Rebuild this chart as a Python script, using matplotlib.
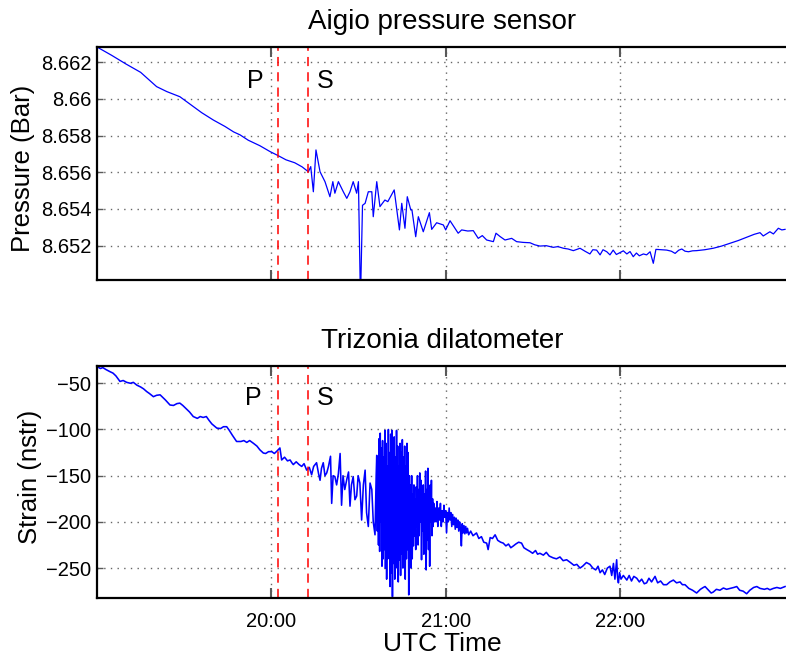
import numpy as np
import matplotlib
matplotlib.use('Agg')
import matplotlib.pyplot as plt

plt.rcParams['font.family'] = ['Liberation Sans', 'DejaVu Sans']

# tempo em minutos depois das 19:00 UTC
t_pressao = [0, 5, 10, 15, 20.5, 24, 28.5, 33, 36, 40, 44, 47, 49.2, 52, 56, 59.5, 62.4, 65, 68, 70.5,
             72.7, 73.5, 74.4, 75.3, 76.7, 78.4, 80.1, 81.1, 81.8, 83.0, 84.7, 85.9, 87.0, 88.1,
             89.3, 89.9, 90.6, 91.3, 92.2, 93.3, 94.5, 95.0, 96.2, 97.3, 99.0, 100.0, 102.2,
             104.0, 104.8, 105.9, 106.7, 107.9, 108.3, 109.6, 110.5, 112.2, 114.3, 115.1, 116.8,
             119.1, 119.9, 121.4, 124.2, 125.4, 127.5, 129.4, 131.1, 132.5, 134.0, 136.3, 137.2,
             138.6, 140.3, 142.6, 144.3, 146.5, 148.9, 150.5, 152.3, 154.5, 156.9, 158.5, 160.4,
             162.0, 163.8, 166.1, 167.8, 169.5, 170.5, 171.8, 173.0, 174.0, 175.3, 176.4, 177.5,
             178.6, 179.8, 181.0, 182.2, 183.3, 184.4, 185.5, 186.5, 187.9, 189.0, 190.2, 191.3,
             192.2, 194.0, 195.9, 197.5, 198.8, 200.0, 201.1, 202.2, 203.4, 204.8, 206.2, 209.0,
             211.9, 214.8, 217.7, 220.5, 223.4, 226.0, 228.0, 229.1, 231.4, 232.6, 234.3, 235.5,
             236.6]
pressao = [8.66283, 8.66238, 8.66190, 8.66145, 8.66067, 8.66040, 8.66012, 8.65960, 8.65925,
           8.65885, 8.65850, 8.65820, 8.65804, 8.65775, 8.65745, 8.65713, 8.65690, 8.65668,
           8.65652, 8.65630, 8.65603, 8.65631, 8.65494, 8.65722, 8.65603, 8.65549, 8.65467,
           8.65549, 8.65486, 8.65549, 8.65494, 8.65458, 8.65494, 8.65549, 8.65486, 8.65549,
           8.64900, 8.65420, 8.65431, 8.65494, 8.65494, 8.65358, 8.65549, 8.65413, 8.65449,
           8.65440, 8.65504, 8.65286, 8.65431, 8.65295, 8.65467, 8.65395, 8.65395, 8.65249,
           8.65358, 8.65276, 8.65380, 8.65289, 8.65325, 8.65313, 8.65286, 8.65336, 8.65268,
           8.65286, 8.65280, 8.65282, 8.65240, 8.65255, 8.65231, 8.65222, 8.65268, 8.65250,
           8.65231, 8.65240, 8.65222, 8.65218, 8.65216, 8.65205, 8.65198, 8.65200, 8.65191,
           8.65195, 8.65186, 8.65182, 8.65173, 8.65186, 8.65170, 8.65155, 8.65178, 8.65176,
           8.65150, 8.65178, 8.65167, 8.65150, 8.65176, 8.65152, 8.65162, 8.65172, 8.65155,
           8.65168, 8.65140, 8.65160, 8.65145, 8.65155, 8.65150, 8.65167, 8.65104, 8.65180,
           8.65178, 8.65176, 8.65170, 8.65158, 8.65175, 8.65182, 8.65170, 8.65167, 8.65172,
           8.65173, 8.65178, 8.65186, 8.65198, 8.65213, 8.65228, 8.65246, 8.65262, 8.65271,
           8.65253, 8.65276, 8.65264, 8.65295, 8.65286, 8.65289]

# dilatômetro: antes da chegada das ondas e início do tremor
t_strain_a = [0, 1.2, 2.0, 3.0, 4.5, 5.5, 6.5, 7.9, 9.0, 10.2, 11.5, 12.5, 13.7, 15.0, 16.0, 17.1,
              18.0, 19.4, 20.5, 21.7, 22.5, 23.5, 25.1, 26.3, 27.5, 28.5, 29.5, 30.5, 31.8, 33.1,
              34.5, 35.5, 36.5, 37.6, 38.5, 39.5, 41.2, 42.5, 43.5, 44.6, 45.5, 46.5, 48.0, 49.5,
              50.5, 51.5, 52.5, 53.8, 55.0, 56.0, 57.2, 58.0, 59.0, 60.1, 61.0, 62.0, 62.9, 63.5,
              64.5, 65.5, 66.4, 67.0, 67.5, 68.5, 69.5, 70.4, 71.2, 72.1, 73.0, 73.8, 74.5, 75.5,
              76.2, 76.7, 77.2, 77.8, 78.4, 79.0, 79.6, 80.3, 80.7, 81.2, 81.8, 82.4, 83.0, 83.6,
              84.1, 84.6, 85.2, 85.9, 86.5, 87.0, 87.5, 88.1, 88.7, 89.3, 89.8, 90.4, 91.0, 91.6,
              92.2, 92.7, 93.3, 93.9, 94.5, 95.0, 95.6]
strain_a = [-32, -34, -33, -35, -37.5, -39, -42, -48, -47, -49, -50, -49, -52, -54, -56, -59,
            -61, -64.5, -63, -62.5, -65, -68, -73.5, -74, -72, -71.5, -74, -77, -81, -86,
            -88, -86, -87, -86, -90, -94, -98.5, -99, -97, -97, -101, -106, -113, -113,
            -112, -114, -112, -115, -118, -122, -125.5, -126, -124, -124, -126, -123, -120, -133,
            -130, -134, -133, -136, -138, -135, -138, -140, -137, -144, -141, -149, -140, -136,
            -148, -155, -142, -136, -150, -147, -140, -129, -180, -150, -151, -160, -148, -126,
            -182, -150, -165, -154, -146, -183, -160, -151, -176, -172, -150, -158, -198, -160,
            -144, -190, -205, -158, -165, -200, -214]

# fase mais forte do tremor (20:36 a 20:56)
t_strain_b = [96.0, 96.2, 96.4, 96.6, 96.8, 97.0, 97.2, 97.4, 97.6, 97.8, 98.0, 98.2, 98.4, 98.6,
              98.8, 99.0, 99.2, 99.4, 99.6, 99.8, 100.0, 100.2, 100.4, 100.6, 100.8, 101.0, 101.2,
              101.4, 101.6, 101.8, 102.0, 102.2, 102.4, 102.6, 102.8, 103.0, 103.2, 103.4, 103.6,
              103.8, 104.0, 104.2, 104.4, 104.6, 104.8, 105.0, 105.2, 105.4, 105.6, 105.8, 106.0,
              106.2, 106.4, 106.6, 106.8, 107.0, 107.2, 107.4, 107.6, 107.8, 108.0, 108.2, 108.4,
              108.6, 108.8, 109.0, 109.2, 109.4, 109.6, 109.8, 110.0, 110.2, 110.4, 110.6, 110.8,
              111.0, 111.2, 111.4, 111.6, 111.8, 112.0, 112.2, 112.4, 112.6, 112.8, 113.0, 113.2,
              113.4, 113.6, 113.8, 114.0, 114.2, 114.4, 114.6, 114.8, 115.0, 115.2, 115.4, 115.6,
              115.8, 116.0]
strain_b = [-150, -128, -210, -135, -225, -110, -232, -104, -200, -120, -248, -112, -240, -130,
            -230, -101, -250, -115, -262, -140, -240, -100, -226, -125, -270, -105, -255,
            -101, -281, -120, -245, -108, -262, -130, -236, -101, -250, -118, -265,
            -140, -241, -115, -258, -125, -235, -111, -250, -130, -220, -118, -262,
            -140, -240, -115, -230, -125, -279, -150, -225, -160, -250, -150, -240,
            -170, -226, -160, -215, -175, -230, -162, -205, -150, -225, -165, -215,
            -147, -200, -155, -241, -165, -210, -160, -235, -170, -205, -145, -252,
            -165, -220, -142, -230, -170, -248, -160, -200, -155, -215, -175, -205,
            -180, -200]

# fim do tremor e tendência
t_strain_c = [116.3, 116.6, 116.9, 117.2, 117.5, 117.8, 118.1, 118.4, 118.7, 119.0, 119.3, 119.6,
              119.9, 120.2, 120.5, 120.8, 121.1, 121.4, 121.7, 122.0, 122.3, 122.6, 122.9, 123.2,
              123.5, 123.8, 124.1, 124.4, 124.7, 125.0, 125.3, 125.6, 125.9, 126.2, 126.5, 126.8,
              127.1, 127.4, 127.8, 128.5, 129.3, 130.5, 131.3, 132.2,
              133.0, 134.0, 134.5, 135.2, 136.0, 136.9, 137.8, 138.8, 139.7, 140.6, 141.5, 142.3,
              143.2, 144.0, 145.0, 146.0, 146.8, 147.8, 148.9, 149.8, 150.8, 151.5, 152.3, 153.5,
              154.5, 155.5, 156.9, 158.0, 159.2, 160.3, 161.5, 162.8, 164.0, 165.0, 166.1, 167.0,
              168.3, 169.5, 170.5, 171.5, 172.3, 173.0, 173.8, 174.6, 175.5, 176.4, 177.0, 177.6,
              178.1, 178.7, 179.0, 179.3, 179.7, 180.2, 181.0, 182.2, 183.0, 183.8, 184.6, 185.6,
              186.5, 187.3, 188.2, 189.0, 189.8, 190.7, 191.9, 192.8, 193.8, 194.8, 195.9, 197.0,
              198.2, 199.3, 200.5, 201.3, 202.2, 203.5, 204.8, 206.2, 207.5, 208.5, 209.1, 210.3,
              211.2, 211.9, 213.0, 214.2, 215.4, 216.5, 217.8, 219.0, 220.0, 221.0, 222.2, 223.4,
              224.5, 225.8, 226.9, 228.0, 229.5, 230.5, 231.4, 232.6, 233.8, 235.0, 236.6]
strain_c = [-185, -200, -178, -205, -185, -198, -180, -205, -188, -200, -182, -195,
            -188, -212, -190, -200, -185, -198, -190, -205, -192, -203, -195, -208,
            -196, -206, -198, -210, -200, -208, -226, -202, -212, -204, -213, -205,
            -212, -207, -214, -210, -215, -212, -218, -216,
            -222, -223, -230, -217, -218, -214, -220, -222, -223, -226, -224, -228,
            -226, -224, -222, -223, -228, -230, -232, -234, -231, -235, -234, -236,
            -233, -237, -239, -240, -238, -242, -241, -244, -247, -246, -250, -248,
            -244, -246, -250, -252, -248, -255, -252, -257, -250, -248, -258, -245,
            -262, -241, -260, -266, -255, -262, -258, -263, -258, -264, -259, -261,
            -265, -262, -267, -266, -261, -265, -259, -266, -264, -268, -268, -265,
            -263, -266, -265, -268, -268, -272, -274, -277, -273, -271, -270, -274,
            -277, -276, -273, -274, -271.6, -273, -272, -271, -270, -274, -275, -277.8,
            -274, -271, -270, -272, -273, -272, -273.5, -272, -271, -272, -270]

t_strain = t_strain_a + t_strain_b + t_strain_c
strain = strain_a + strain_b + strain_c

chegada_P = 62.4   # 20:02.4
chegada_S = 72.4   # 20:12.4
ticks_x = [60, 120, 180]
rotulos_x = ['20:00', '21:00', '22:00']
ticks_p = [8.652, 8.654, 8.656, 8.658, 8.66, 8.662]
rotulos_p = ['8.652', '8.654', '8.656', '8.658', '8.66', '8.662']
ticks_s = [-250, -200, -150, -100, -50]

fig = plt.figure(figsize=(7.86, 6.55), dpi=100)
larg = (788 - 97) / 786
ax1 = fig.add_axes([97 / 786, 1 - 280 / 655, larg, 233 / 655])
ax2 = fig.add_axes([97 / 786, 1 - 598 / 655, larg, 232 / 655])


def estilo(ax):
    for lado in ['left', 'top', 'bottom']:
        ax.spines[lado].set_linewidth(1.6)
    ax.spines['right'].set_visible(False)
    ax.set_xticks(ticks_x)
    ax.tick_params(axis='x', direction='in', length=7, width=1.5, color='0.35',
                   top=True, labelsize=14.5, pad=10)
    ax.tick_params(axis='y', direction='in', length=4, width=1, color='0.35',
                   labelsize=14.5, pad=4)
    ax.grid(True, color='0.4', linestyle=(0, (1, 3.8)), linewidth=1)
    ax.set_xlim(0, (788 - 97) / 2.908)


# Sensor de pressão
ax1.plot(t_pressao, pressao, color='#0000ff', linewidth=0.9)
estilo(ax1)
ax1.set_ylim(8.65013, 8.66283)
ax1.set_yticks(ticks_p)
ax1.set_yticklabels(rotulos_p)
ax1.set_xticklabels([])
ax1.axvline(chegada_P, color='red', linestyle=(0, (6, 4)), linewidth=1.1)
ax1.axvline(chegada_S, color='red', linestyle=(0, (6, 4)), linewidth=1.1)
ax1.text(54.3, 8.66095, 'P', fontsize=18, ha='center', va='center')
ax1.text(78.6, 8.66095, 'S', fontsize=18, ha='center', va='center')
ax1.set_ylabel('Pressure (Bar)', fontsize=18.5)
ax1.yaxis.set_label_coords(-0.09, 0.48)
ax1.set_title('Aigio pressure sensor', fontsize=20, pad=13)

# Dilatômetro
ax2.plot(t_strain, strain, color='#0000ff', linewidth=1.15)
estilo(ax2)
ax2.set_ylim(-282.4, -31.3)
ax2.set_yticks(ticks_s)
ax2.set_xticklabels(rotulos_x)
ax2.axvline(chegada_P, color='red', linestyle=(0, (6, 4)), linewidth=1.1)
ax2.axvline(chegada_S, color='red', linestyle=(0, (6, 4)), linewidth=1.1)
ax2.text(53.6, -66, 'P', fontsize=18, ha='center', va='center')
ax2.text(78.6, -66, 'S', fontsize=18, ha='center', va='center')
ax2.set_ylabel('Strain (nstr)', fontsize=18.5)
ax2.yaxis.set_label_coords(-0.08, 0.52)
ax2.set_title('Trizonia dilatometer', fontsize=20, pad=13)
ax2.set_xlabel('UTC Time', fontsize=19, labelpad=1)

fig.savefig('out.png', dpi=100)
